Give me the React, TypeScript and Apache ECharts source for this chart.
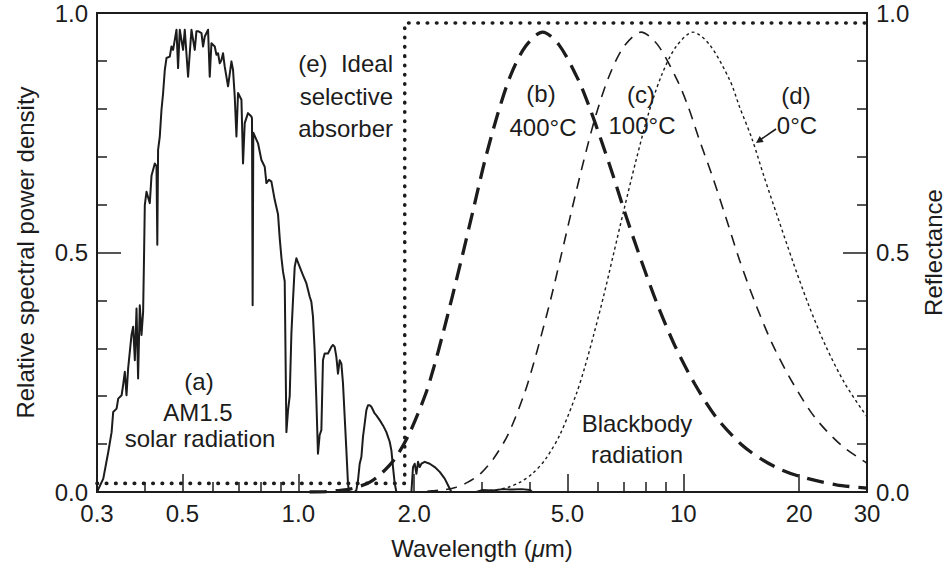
import React, { useEffect, useRef } from 'react';
import * as echarts from 'echarts';

// ---- axis ticks ----
const xTickValues = [0.3, 0.5, 1, 2, 5, 10, 20, 30];
const xTickLabels = ['0.3', '0.5', '1.0', '2.0', '5.0', '10', '20', '30'];
const xMinorTickValues = [0.4, 0.6, 0.7, 0.8, 0.9, 3, 4, 6, 7, 8, 9];

// ---- (a) AM1.5 solar radiation: [wavelength µm, relative power] ----
const solarAM15: [number, number][] = [
  [0.3, 0], [0.3115, 0.028], [0.321, 0.084], [0.3274, 0.125], [0.3305, 0.167], [0.3373, 0.174],
  [0.3406, 0.195], [0.3476, 0.202], [0.3507, 0.223], [0.3543, 0.251], [0.3579, 0.202], [0.3614, 0.258],
  [0.3688, 0.328], [0.3724, 0.345], [0.3762, 0.275], [0.38, 0.383], [0.3836, 0.237], [0.3875, 0.39],
  [0.3915, 0.328], [0.3953, 0.376], [0.3976, 0.5], [0.3993, 0.599], [0.4034, 0.627], [0.4114, 0.603],
  [0.4156, 0.66], [0.4239, 0.686], [0.4282, 0.68], [0.4303, 0.516], [0.4323, 0.714], [0.4367, 0.742],
  [0.4412, 0.798], [0.4455, 0.833], [0.45, 0.881], [0.4546, 0.906], [0.4636, 0.909], [0.4683, 0.93],
  [0.4729, 0.923], [0.4777, 0.944], [0.4826, 0.965], [0.4872, 0.885], [0.4922, 0.965], [0.502, 0.923],
  [0.5071, 0.965], [0.5172, 0.867], [0.5278, 0.965], [0.5383, 0.923], [0.5438, 0.962], [0.5491, 0.962],
  [0.5604, 0.958], [0.5657, 0.93], [0.5715, 0.951], [0.5829, 0.965], [0.5888, 0.867], [0.5948, 0.937],
  [0.6067, 0.93], [0.6129, 0.913], [0.6188, 0.916], [0.6251, 0.895], [0.6315, 0.902], [0.6375, 0.916],
  [0.644, 0.888], [0.6569, 0.847], [0.6704, 0.899], [0.6768, 0.881], [0.6837, 0.826], [0.6907, 0.742],
  [0.6974, 0.833], [0.7117, 0.819], [0.7185, 0.686], [0.7258, 0.77], [0.7402, 0.791], [0.7554, 0.784],
  [0.758, 0.78], [0.761, 0.39], [0.764, 0.75], [0.7859, 0.728], [0.802, 0.693], [0.818, 0.679],
  [0.8263, 0.645], [0.8393, 0.652], [0.8514, 0.648], [0.8684, 0.61], [0.8857, 0.58], [0.8947, 0.53],
  [0.9038, 0.49], [0.9126, 0.46], [0.9219, 0.44], [0.9313, 0.125], [0.9402, 0.17], [0.9498, 0.2],
  [0.9595, 0.331], [0.9688, 0.401], [0.9787, 0.47], [0.9887, 0.488], [1.0083, 0.47], [1.0282, 0.453],
  [1.0493, 0.436], [1.0703, 0.408], [1.0812, 0.397], [1.0917, 0.366], [1.1028, 0.296], [1.114, 0.192],
  [1.1247, 0.08], [1.1362, 0.119], [1.1478, 0.129], [1.1589, 0.275], [1.1707, 0.289], [1.1941, 0.289],
  [1.2063, 0.296], [1.2186, 0.303], [1.2303, 0.307], [1.2429, 0.303], [1.2556, 0.282], [1.2678, 0.247],
  [1.2807, 0.275], [1.2938, 0.268], [1.3063, 0.227], [1.3196, 0.157], [1.3331, 0.087], [1.3459, 0.018],
  [1.3539, 0], [1.4009, 0], [1.4152, 0.004], [1.4289, 0.024], [1.4435, 0.059], [1.4582, 0.073],
  [1.4723, 0.115], [1.4873, 0.143], [1.5025, 0.171], [1.517, 0.181], [1.5325, 0.181], [1.5481, 0.178],
  [1.579, 0.164], [1.5951, 0.16], [1.627, 0.15], [1.6594, 0.139], [1.6934, 0.125], [1.7273, 0.105],
  [1.7449, 0.087], [1.7618, 0.052], [1.7798, 0.018], [1.798, 0], [1.9669, 0], [1.9858, 0.052],
  [2.0061, 0.059], [2.0266, 0.038], [2.0461, 0.063], [2.067, 0.052], [2.0881, 0.059], [2.1298, 0.063],
  [2.1945, 0.059], [2.2612, 0.052], [2.3297, 0.042], [2.4005, 0.028], [2.4483, 0.014], [2.4985, 0],
  [2.9, 0], [3.0, 0.004], [3.2, 0.003], [3.4, 0.006], [3.6, 0.005], [3.8, 0.006], [4.0, 0.004], [4.05, 0],
];

// ---- blackbody radiation (relative) ----
const blackbody400C: [number, number][] = [
  [1.07, 0], [1.19, 0.001], [1.26, 0.003], [1.34, 0.005], [1.42, 0.01], [1.53, 0.02], [1.64, 0.038],
  [1.78, 0.069], [1.94, 0.121], [2.14, 0.204], [2.25, 0.261], [2.37, 0.328], [2.51, 0.407], [2.67, 0.495],
  [2.85, 0.591], [3.05, 0.691], [3.29, 0.787], [3.56, 0.87], [3.89, 0.93], [4.31, 0.96], [4.75, 0.934],
  [5.34, 0.86], [5.7, 0.804], [6.11, 0.736], [6.58, 0.659], [7.12, 0.573], [7.77, 0.484], [8.55, 0.393],
  [9.5, 0.306], [10.7, 0.226], [12.2, 0.155], [14.2, 0.098], [16, 0.068], [17.8, 0.048], [20, 0.033],
  [25, 0.015], [30, 0.008],
];
const blackbody100C: [number, number][] = [
  [1.93, 0], [2.14, 0.001], [2.27, 0.003], [2.41, 0.005], [2.57, 0.01], [2.75, 0.02], [2.97, 0.038],
  [3.21, 0.069], [3.51, 0.121], [3.86, 0.204], [4.06, 0.261], [4.28, 0.328], [4.54, 0.407], [4.82, 0.495],
  [5.14, 0.591], [5.51, 0.691], [5.93, 0.787], [6.43, 0.87], [7.01, 0.93], [7.77, 0.96], [8.57, 0.934],
  [9.64, 0.86], [10.3, 0.804], [11.0, 0.736], [11.9, 0.659], [12.9, 0.573], [14.0, 0.484], [15.4, 0.393],
  [17.1, 0.306], [19.3, 0.226], [22.0, 0.155], [25.7, 0.098], [30, 0.06],
];
const blackbody0C: [number, number][] = [
  [2.63, 0], [2.93, 0.001], [3.1, 0.003], [3.29, 0.005], [3.51, 0.01], [3.76, 0.02], [4.05, 0.038],
  [4.39, 0.069], [4.79, 0.121], [5.27, 0.204], [5.55, 0.261], [5.85, 0.328], [6.2, 0.407], [6.58, 0.495],
  [7.02, 0.591], [7.53, 0.691], [8.1, 0.787], [8.78, 0.87], [9.58, 0.93], [10.6, 0.96], [11.7, 0.934],
  [13.2, 0.86], [14.0, 0.804], [15.1, 0.736], [16.2, 0.659], [17.6, 0.573], [19.2, 0.484], [21.1, 0.393],
  [23.4, 0.306], [26.3, 0.226], [30, 0.157],
];

// ---- (e) ideal selective absorber reflectance ----
const idealAbsorber: [number, number][] = [
  [0.3, 0.018], [1.89, 0.018], [1.89, 0.979], [30, 0.979],
];

const FONT = '"Liberation Sans", Arial, Helvetica, sans-serif';
const INK = '#1c1c1c';
const FS = 24;

export default function App() {
  const ref = useRef<HTMLDivElement>(null);

  useEffect(() => {
    if (!ref.current) return;
    const chart = echarts.init(ref.current, null, { renderer: 'svg' });
    const lg = (d: [number, number][]) => d.map(([l, v]) => [Math.log10(l), v]);
    const xMin = Math.log10(0.3);
    const xMax = Math.log10(30);
    const labelOf = (val: number) => {
      const i = xTickValues.findIndex((t) => Math.abs(Math.log10(t) - val) < 1e-6);
      return i >= 0 ? xTickLabels[i] : '';
    };
    const txt = { fontSize: FS, fontFamily: FONT, color: INK };

    const yAxisBase = {
      type: 'value',
      min: 0,
      max: 1,
      interval: 0.5,
      axisLine: { show: true, onZero: false, lineStyle: { color: INK, width: 2 } },
      axisTick: { show: true, inside: true, length: 24, lineStyle: { color: INK, width: 1.5 } },
      minorTick: { show: true, splitNumber: 5, length: 10, lineStyle: { color: INK, width: 1.5 } },
      axisLabel: { ...txt, margin: 9, formatter: (v: number) => v.toFixed(1) },
      splitLine: { show: false },
      minorSplitLine: { show: false },
      nameLocation: 'middle',
      nameRotate: 90,
      nameTextStyle: { ...txt },
    };

    const textEl = (text: string, x: number, y: number, align: string = 'center') => ({
      type: 'text',
      x,
      y,
      silent: true,
      style: {
        text,
        fontSize: FS,
        fontFamily: FONT,
        fill: INK,
        textAlign: align,
        textVerticalAlign: 'middle',
      },
    });

    const option: any = {
      animation: false,
      backgroundColor: '#ffffff',
      grid: {
        left: 97,
        right: 83,
        top: 13,
        bottom: 73,
        show: true,
        borderColor: INK,
        borderWidth: 2,
        backgroundColor: 'transparent',
        containLabel: false,
        outerBoundsMode: 'none',
      },
      xAxis: [
        {
          type: 'value',
          min: xMin,
          max: xMax,
          position: 'bottom',
          axisLine: { show: true, onZero: false, lineStyle: { color: INK, width: 2 } },
          axisTick: {
            show: true,
            inside: true,
            length: 18,
            customValues: xTickValues.map((v) => Math.log10(v)),
            lineStyle: { color: INK, width: 1.5 },
          },
          axisLabel: {
            ...txt,
            margin: 9,
            customValues: xTickValues.map((v) => Math.log10(v)),
            formatter: labelOf,
          },
          splitLine: { show: false },
          name: '{n|Wavelength (}{i|μ}{n|m)}',
          nameLocation: 'middle',
          nameGap: 44,
          nameTextStyle: {
            rich: {
              n: { ...txt },
              i: { ...txt, fontStyle: 'italic' },
            },
          },
        },
        {
          type: 'value',
          min: xMin,
          max: xMax,
          position: 'bottom',
          gridIndex: 0,
          axisLine: { show: false, onZero: false },
          axisTick: {
            show: true,
            inside: true,
            length: 10,
            customValues: xMinorTickValues.map((v) => Math.log10(v)),
            lineStyle: { color: INK, width: 1.5 },
          },
          axisLabel: { show: false },
          splitLine: { show: false },
        },
      ],
      yAxis: [
        { ...yAxisBase, position: 'left', name: 'Relative spectral power density', nameGap: 60 },
        { ...yAxisBase, position: 'right', name: 'Reflectance', nameGap: 54 },
      ],
      series: [
        {
          name: '(a) AM1.5 solar radiation',
          type: 'line',
          data: lg(solarAM15),
          showSymbol: false,
          symbol: 'none',
          silent: true,
          lineStyle: { color: INK, width: 2, join: 'round' },
          z: 3,
        },
        {
          name: '(b) 400°C',
          type: 'line',
          data: lg(blackbody400C),
          smooth: 0.3,
          symbol: 'none',
          silent: true,
          lineStyle: { color: INK, width: 3.3, type: [17, 9] },
          z: 4,
        },
        {
          name: '(c) 100°C',
          type: 'line',
          data: lg(blackbody100C),
          smooth: 0.3,
          symbol: 'none',
          silent: true,
          lineStyle: { color: INK, width: 1.6, type: [11, 8] },
          z: 4,
        },
        {
          name: '(d) 0°C',
          type: 'line',
          data: lg(blackbody0C),
          smooth: 0.3,
          symbol: 'none',
          silent: true,
          lineStyle: { color: INK, width: 1.4, type: [3, 3] },
          z: 4,
        },
        {
          name: '(e) Ideal selective absorber',
          type: 'line',
          yAxisIndex: 1,
          data: lg(idealAbsorber),
          symbol: 'none',
          silent: true,
          lineStyle: { color: INK, width: 3.6, type: [0.5, 8.8], cap: 'round' },
          z: 5,
        },
      ],
      graphic: [
        textEl('(e)  Ideal', 393, 63, 'right'),
        textEl('selective', 393, 96, 'right'),
        textEl('absorber', 393, 128, 'right'),
        textEl('(b)', 541, 93),
        textEl('400°C', 543, 127),
        textEl('(c)', 641, 94),
        textEl('100°C', 642, 125),
        textEl('(d)', 796, 95),
        textEl('0°C', 797, 125),
        textEl('(a)', 199, 381),
        textEl('AM1.5', 198, 412),
        textEl('solar radiation', 200, 438),
        textEl('Blackbody', 637, 423),
        textEl('radiation', 637, 454),
        {
          type: 'line',
          silent: true,
          shape: { x1: 776, y1: 129, x2: 760, y2: 140 },
          style: { stroke: INK, lineWidth: 1.6 },
        },
        {
          type: 'polygon',
          silent: true,
          shape: { points: [[756, 143], [763.7, 141.9], [759.7, 136.1]] },
          style: { fill: INK },
        },
      ],
    };

    chart.setOption(option);
    return () => chart.dispose();
  }, []);

  return (
    <div
      ref={ref}
      style={{ position: 'fixed', left: 0, top: 0, width: 950, height: 565, background: '#fff' }}
    />
  );
}
